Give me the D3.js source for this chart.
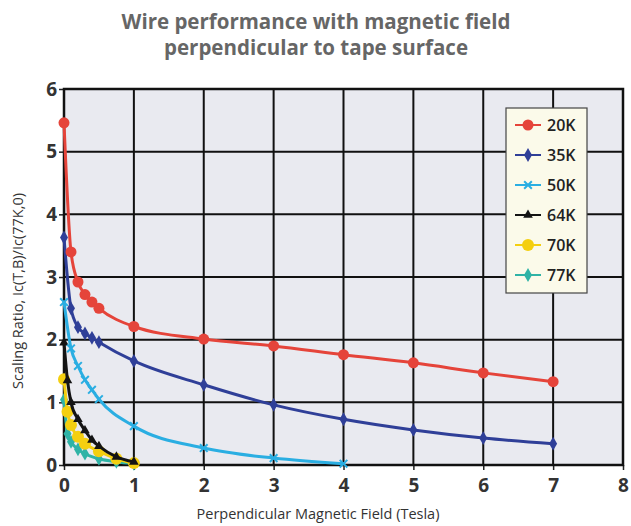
<!DOCTYPE html>
<html>
<head>
<meta charset="utf-8">
<script src="https://cdn.jsdelivr.net/npm/d3@7"></script>
<style>
  body { margin: 0; background: #fff; }
  svg { display: block; font-family: "Open Sans", "DejaVu Sans", sans-serif; }
</style>
</head>
<body>
<div id="chart"></div>
<script>
const WIDTH = 631;
const HEIGHT = 526;

// data: [field (T), scaling ratio]
const series20K = [[0,5.46],[0.1,3.4],[0.2,2.92],[0.3,2.72],[0.4,2.6],[0.5,2.5],[1,2.21],[2,2.01],[3,1.9],[4,1.76],[5,1.63],[6,1.47],[7,1.33]];
const series35K = [[0,3.63],[0.1,2.5],[0.2,2.2],[0.3,2.1],[0.4,2.03],[0.5,1.96],[1,1.66],[2,1.28],[3,0.96],[4,0.73],[5,0.56],[6,0.43],[7,0.34]];
const series50K = [[0,2.6],[0.1,1.86],[0.2,1.58],[0.3,1.36],[0.4,1.2],[0.5,1.05],[1,0.62],[2,0.27],[3,0.11],[4,0.02]];
const series64K = [[0,1.95],[0.05,1.35],[0.1,1.0],[0.2,0.73],[0.3,0.55],[0.4,0.4],[0.5,0.3],[0.75,0.13],[1,0.05]];
const series70K = [[0,1.37],[0.05,0.85],[0.1,0.64],[0.2,0.45],[0.3,0.34],[0.5,0.22],[0.75,0.1],[1,0.03]];
const series77K = [[0,1.04],[0.05,0.5],[0.1,0.37],[0.2,0.25],[0.3,0.18],[0.5,0.1],[0.75,0.05],[1,0.02]];

const seriesNames = ["20K","35K","50K","64K","70K","77K"];
const seriesData = [series20K, series35K, series50K, series64K, series70K, series77K];
const seriesColors = ["#e5443a","#2f3f98","#2aaee2","#141414","#f4cf10","#2fb3a6"];
const seriesMarkers = ["circle","diamond","cross","triangle","bigcircle","diamond"];

const xTicks = [0,1,2,3,4,5,6,7,8];
const yTicks = [0,1,2,3,4,5,6];

const TITLE = ["Wire performance with magnetic field", "perpendicular to tape surface"];
const X_LABEL = "Perpendicular Magnetic Field (Tesla)";
const Y_LABEL = "Scaling Ratio, Ic(T,B)/Ic(77K,0)";

const margin = {left: 64, right: 8, top: 89, bottom: 61};

const x = d3.scaleLinear().domain([0,8]).range([margin.left, WIDTH - margin.right]);
const y = d3.scaleLinear().domain([0,6]).range([HEIGHT - margin.bottom, margin.top]);

const svg = d3.select("#chart").append("svg")
    .attr("width", WIDTH)
    .attr("height", HEIGHT);

// title
svg.append("g").selectAll("text")
    .data(TITLE)
    .enter()
    .append("text")
    .attr("x", 316)
    .attr("y", (d,i) => 29 + i*26)
    .attr("text-anchor", "middle")
    .attr("font-size", 20.5)
    .attr("font-weight", "bold")
    .attr("fill", "#666")
    .text(d => d);

// plot background
svg.append("rect")
    .attr("x", x(0)).attr("y", y(6))
    .attr("width", x(8) - x(0)).attr("height", y(0) - y(6))
    .attr("fill", "#e9eaf0");

// grid
const grid = svg.append("g");
grid.selectAll(".vg").data(xTicks).enter().append("line")
    .attr("x1", d => x(d)).attr("x2", d => x(d))
    .attr("y1", y(6)).attr("y2", y(0))
    .attr("stroke", "#111").attr("stroke-width", 2);
grid.selectAll(".hg").data(yTicks).enter().append("line")
    .attr("x1", x(0)).attr("x2", x(8))
    .attr("y1", d => y(d)).attr("y2", d => y(d))
    .attr("stroke", "#111").attr("stroke-width", 2);

// axes
const xAxis = svg.append("g")
    .attr("transform", `translate(0,${y(0)})`)
    .call(d3.axisBottom(x).tickValues(xTicks).tickSize(5).tickPadding(9).tickFormat(d3.format("d")));
const yAxis = svg.append("g")
    .attr("transform", `translate(${x(0)},0)`)
    .call(d3.axisLeft(y).tickValues(yTicks).tickSize(5).tickPadding(2).tickFormat(d3.format("d")));

[xAxis, yAxis].forEach(a => {
    a.select(".domain").remove();
    a.selectAll(".tick line").attr("stroke", "#222").attr("stroke-width", 1.5);
    a.selectAll(".tick text")
        .attr("font-size", 19)
        .attr("font-weight", "bold")
        .attr("fill", "#333")
        .attr("font-family", "'Open Sans', 'DejaVu Sans', sans-serif");
});

// plot frame
svg.append("rect")
    .attr("x", x(0)).attr("y", y(6))
    .attr("width", x(8) - x(0)).attr("height", y(0) - y(6))
    .attr("fill", "none")
    .attr("stroke", "#111")
    .attr("stroke-width", 2.5);

// axis labels
svg.append("text")
    .attr("x", 318).attr("y", 519)
    .attr("text-anchor", "middle")
    .attr("font-size", 14.5)
    .attr("fill", "#333")
    .text(X_LABEL);

svg.append("text")
    .attr("transform", `translate(23,${(y(0)+y(6))/2 + 14}) rotate(-90)`)
    .attr("text-anchor", "middle")
    .attr("font-size", 14.5)
    .attr("fill", "#333")
    .text(Y_LABEL);

// markers
function drawMarker(sel, type, color) {
    if (type === "circle") {
        sel.append("circle").attr("r", 5.5).attr("fill", color);
    } else if (type === "bigcircle") {
        sel.append("circle").attr("r", 6).attr("fill", color);
    } else if (type === "diamond") {
        sel.append("path").attr("d", d3.symbol(d3.symbolDiamond, 55)).attr("fill", color);
    } else if (type === "triangle") {
        sel.append("path").attr("d", d3.symbol(d3.symbolTriangle, 40)).attr("fill", color);
    } else if (type === "cross") {
        sel.append("path").attr("d", d3.symbol(d3.symbolX, 40))
            .attr("fill", "none").attr("stroke", color).attr("stroke-width", 2);
    }
}

const line = d3.line()
    .x(d => x(d[0]))
    .y(d => y(d[1]))
    .curve(d3.curveMonotoneX);

const plot = svg.append("g");

// draw back-to-front so the warm curves sit on top like the original
const order = [5,4,3,2,1,0];
order.forEach(i => {
    const g = plot.append("g");
    g.append("path")
        .datum(seriesData[i])
        .attr("d", line)
        .attr("fill", "none")
        .attr("stroke", seriesColors[i])
        .attr("stroke-width", 3);
    g.selectAll(".pt")
        .data(seriesData[i])
        .enter()
        .append("g")
        .attr("transform", d => `translate(${x(d[0])},${y(d[1])})`)
        .each(function() { drawMarker(d3.select(this), seriesMarkers[i], seriesColors[i]); });
});

// legend
const legend = svg.append("g").attr("transform", "translate(506,108)");
legend.append("rect")
    .attr("width", 81).attr("height", 185)
    .attr("fill", "#fbfaea")
    .attr("stroke", "#444")
    .attr("stroke-width", 1.2);

const item = legend.selectAll(".item")
    .data(seriesNames)
    .enter()
    .append("g")
    .attr("transform", (d,i) => `translate(0,${17 + i*30})`);

item.append("line")
    .attr("x1", 9).attr("x2", 35)
    .attr("stroke", (d,i) => seriesColors[i])
    .attr("stroke-width", 2);
item.append("g")
    .attr("transform", "translate(22,0)")
    .each(function(d,i) { drawMarker(d3.select(this), seriesMarkers[i], seriesColors[i]); });
item.append("text")
    .attr("x", 41).attr("y", 6)
    .attr("font-size", 16)
    .attr("font-weight", 600)
    .attr("fill", "#222")
    .text(d => d);
</script>
</body>
</html>
